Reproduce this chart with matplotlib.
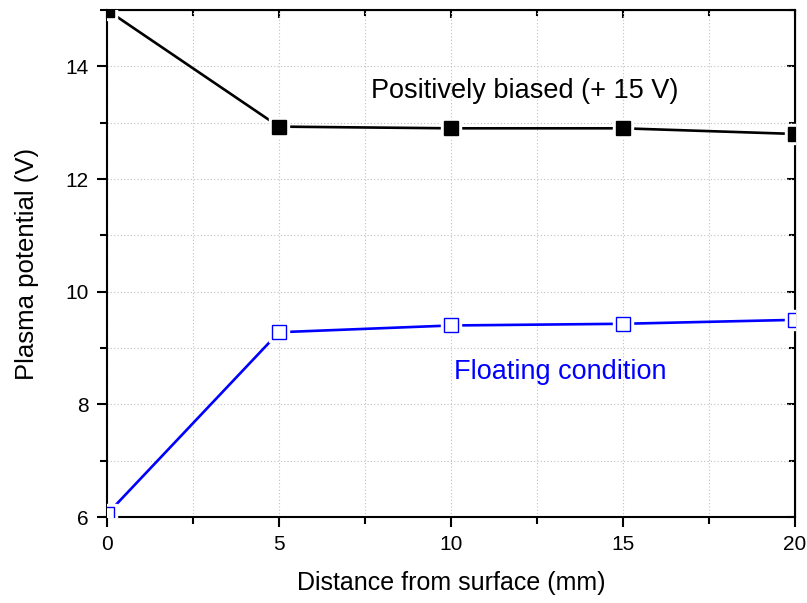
import matplotlib
matplotlib.use("Agg")
import matplotlib.pyplot as plt
from matplotlib.ticker import MultipleLocator

plt.rcParams['font.family'] = ['Liberation Sans', 'DejaVu Sans']

distance = [0, 5, 10, 15, 20]
biased = [15.0, 12.93, 12.9, 12.9, 12.8]
floating = [6.05, 9.28, 9.4, 9.43, 9.5]

fig = plt.figure(figsize=(8.07, 6.03), dpi=100)
ax = fig.add_axes([0.1326, 0.1426, 0.8524, 0.8408])

def series(x, y, color, filled):
    ax.plot(x, y, color=color, lw=1.9, zorder=3)
    ax.plot(x, y, ls='none', marker='s', ms=14, mfc='white', mec='white', zorder=4)
    ax.plot(x, y, ls='none', marker='s', ms=10, mfc=color if filled else 'white',
            mec=color, mew=1.0, zorder=5)

series(distance, biased, 'black', True)
series(distance, floating, '#0000ff', False)

ax.set_xlim(0, 20)
ax.set_ylim(6, 15)
ax.xaxis.set_major_locator(MultipleLocator(5))
ax.xaxis.set_minor_locator(MultipleLocator(2.5))
ax.yaxis.set_major_locator(MultipleLocator(2))
ax.yaxis.set_minor_locator(MultipleLocator(1))
ax.grid(True, which='both', color='#c0c0c0', ls=(0, (1, 2)), lw=0.8)
ax.set_axisbelow(True)

ax.tick_params(which='both', direction='out', width=1.5, labelsize=15, pad=6)
ax.tick_params(which='major', length=7)
ax.tick_params(which='minor', length=5)
for s in ax.spines.values():
    s.set_linewidth(1.5)

axt = ax.secondary_xaxis('top')
axt.xaxis.set_major_locator(MultipleLocator(5))
axt.xaxis.set_minor_locator(MultipleLocator(2.5))
axt.tick_params(which='both', direction='in', width=1.5, labeltop=False)
axt.tick_params(which='major', length=6)
axt.tick_params(which='minor', length=4)
axr = ax.secondary_yaxis('right')
axr.yaxis.set_major_locator(MultipleLocator(2))
axr.yaxis.set_minor_locator(MultipleLocator(1))
axr.tick_params(which='both', direction='in', width=1.5, labelright=False)
axr.tick_params(which='major', length=6)
axr.tick_params(which='minor', length=4)

ax.set_xlabel('Distance from surface (mm)', fontsize=18, labelpad=12)
ax.set_ylabel('Plasma potential (V)', fontsize=18.5, labelpad=19)

ax.text(7.67, 13.57, 'Positively biased (+ 15 V)', fontsize=19.5, color='black', va='center')
ax.text(10.1, 8.57, 'Floating condition', fontsize=19.5, color='#0000ff', va='center')

fig.savefig('out.png', dpi=100)
